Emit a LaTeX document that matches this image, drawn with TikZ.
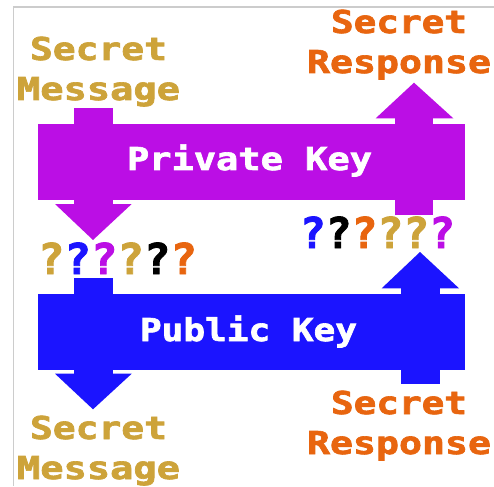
\documentclass[tikz,border=0pt]{standalone}
\usepackage{fontspec}
\newfontfamily\pixfont{DejaVu Sans Mono Bold}[FakeBold=2]
\usepackage{graphicx}

\definecolor{gold}{HTML}{CDA33A}
\definecolor{tangerine}{HTML}{E8650F}
\definecolor{violet}{HTML}{BB0EE5}
\definecolor{royal}{HTML}{1B14FF}
\definecolor{frame}{HTML}{CCCCCC}

% stretch a text horizontally to a given width, keeping its height
\newcommand{\fitw}[2]{\resizebox{#1}{\height}{#2}}

\tikzset{
  lbl/.style={inner sep=0pt, anchor=base, font=\pixfont\fontsize{31.5}{31.5}\selectfont},
  qm/.style={inner sep=0pt, anchor=base, font=\pixfont\fontsize{42.5}{42.5}\selectfont},
}

\begin{document}
\begin{tikzpicture}[x=1pt,y=-1pt]
  \useasboundingbox (0,0) rectangle (494,486);
  \fill[white] (0,0) rectangle (494,486);

  % thin frame on the left and top
  \draw[frame, line width=1.3pt] (13.5,486) -- (13.5,7) -- (494,7);

  % ---- private key band ----
  \fill[violet] (38,124) rectangle (464.7,199.5);
  % arrow going down into the band
  \fill[violet] (74,108) rectangle (112.7,204.5);
  \fill[violet] (55,204) -- (131.7,204) -- (93,240) -- cycle;
  % arrow leaving the band upward
  \fill[violet] (394.7,118) rectangle (433.3,215);
  \fill[violet] (375.7,118.3) -- (453.3,118.3) -- (414,82.7) -- cycle;

  % ---- public key band ----
  \fill[royal] (38,294.3) rectangle (464.7,370.3);
  \fill[royal] (74,277.7) rectangle (112.7,374);
  \fill[royal] (55,373.7) -- (131.7,373.7) -- (93,409.3) -- cycle;
  \fill[royal] (400.7,288) rectangle (440,383.7);
  \fill[royal] (381.7,288.3) -- (459,288.3) -- (420,252) -- cycle;

  % ---- labels ----
  \node[lbl, text=gold] (msgA1) at (98.5,60) {\fitw{137pt}{Secret}};
  \node[lbl, text=gold] (msgA2) at (98.5,100) {\fitw{163pt}{Message}};

  \node[lbl, text=tangerine] (resA1) at (399,33) {\fitw{136pt}{Secret}};
  \node[lbl, text=tangerine] (resA2) at (399,73) {\fitw{184pt}{Response}};

  \node[lbl, text=white] (priv) at (249.5,170) {\fitw{245pt}{Private Key}};
  \node[lbl, text=white] (pub) at (248.5,341) {\fitw{217pt}{Public Key}};

  \node[lbl, text=gold] (msgB1) at (98.5,439) {\fitw{137pt}{Secret}};
  \node[lbl, text=gold] (msgB2) at (98.5,479) {\fitw{163pt}{Message}};

  \node[lbl, text=tangerine] (resB1) at (399,414) {\fitw{136pt}{Secret}};
  \node[lbl, text=tangerine] (resB2) at (399,454) {\fitw{184pt}{Response}};

  % ---- scrambled text ----
  \node[qm] (cipherA) at (117.5,274) {\fitw{159pt}{\textcolor{gold}{?}\textcolor{royal}{?}\textcolor{violet}{?}\textcolor{gold}{?}\textcolor{black}{?}\textcolor{tangerine}{?}}};
  \node[qm] (cipherB) at (377.5,248) {\fitw{155pt}{\textcolor{royal}{?}\textcolor{black}{?}\textcolor{tangerine}{?}\textcolor{gold}{?}\textcolor{gold}{?}\textcolor{violet}{?}}};
\end{tikzpicture}
\end{document}
